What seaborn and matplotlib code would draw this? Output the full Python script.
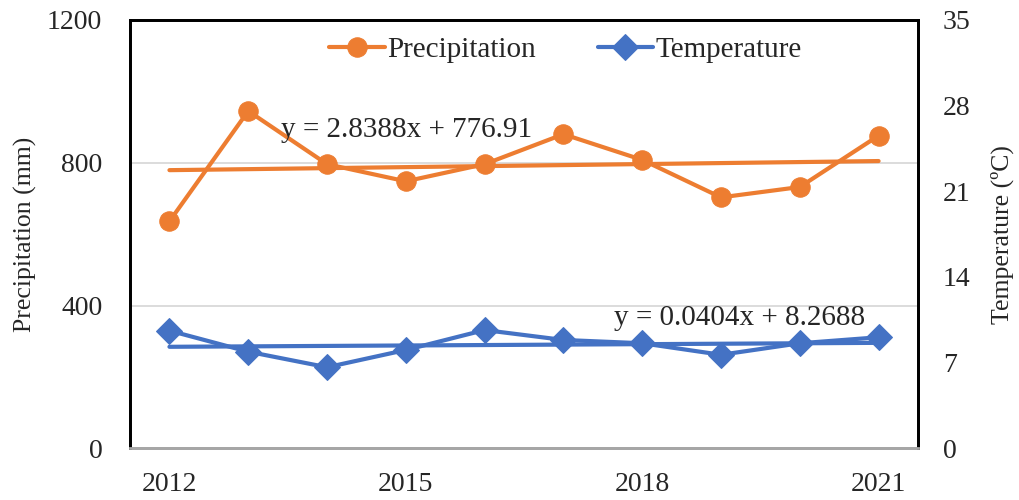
# precipitation and temperature 2012-2021 with linear trends
# two y axes: precipitation (left), temperature (right)

import numpy as np
import pandas as pd
import matplotlib
matplotlib.use('Agg')
import matplotlib.pyplot as plt
import seaborn as sns

# Data
years = [2012, 2013, 2014, 2015, 2016, 2017, 2018, 2019, 2020, 2021]
precipitation = [636, 945, 796, 748, 796, 880, 808, 703, 732, 876]
temperature = [9.61, 7.89, 6.62, 8.03, 9.66, 8.85, 8.58, 7.64, 8.58, 9.07]
precip_eq = 'y = 2.8388x + 776.91'
temp_eq = 'y = 0.0404x + 8.2688'
x_ticks = [2012, 2015, 2018, 2021]
precip_ticks = [0, 400, 800, 1200]
temp_ticks = [0, 7, 14, 21, 28, 35]

df = pd.DataFrame({'year': years, 'precip': precipitation,
                   'temp': temperature})

sns.set_style('white')
plt.rcParams['font.family'] = ['Liberation Serif', 'DejaVu Serif']

orange = '#ED7D31'
blue = '#4472C4'

fig = plt.figure(figsize=(10.2, 5), dpi=100)
ax = fig.add_axes([0.1275, 0.1035, 0.7725, 0.8565])
ax2 = ax.twinx()

# precipitation series + trend
sns.lineplot(data=df, x='year', y='precip', ax=ax, color=orange,
             marker='o', markersize=14, linewidth=3,
             markeredgecolor=orange, label='Precipitation', legend=False)
sns.regplot(data=df, x='year', y='precip', ax=ax, scatter=False, ci=None,
            color=orange, line_kws={'linewidth': 3})

# temperature series + trend
sns.lineplot(data=df, x='year', y='temp', ax=ax2, color=blue,
             marker='D', markersize=13, linewidth=3,
             markeredgecolor=blue, label='Temperature', legend=False)
sns.regplot(data=df, x='year', y='temp', ax=ax2, scatter=False, ci=None,
            color=blue, line_kws={'linewidth': 3})

ax.set_xlim(2011.5, 2021.5)
ax.set_ylim(0, 1200)
ax2.set_ylim(0, 35)
ax.set_xticks(x_ticks)
ax.set_yticks(precip_ticks)
ax2.set_yticks(temp_ticks)
ax.tick_params(axis='x', labelsize=20, length=0, pad=17)
ax.tick_params(axis='y', labelsize=20, length=0, pad=20)
ax2.tick_params(axis='y', labelsize=20, length=0, pad=18)
ax.set_xlabel('')
ax.set_ylabel('Precipitation (mm)', fontsize=18.5, labelpad=7)
ax2.set_ylabel('Temperature (ºC)', fontsize=18.5, labelpad=14)

ax.grid(axis='y', color='#D9D9D9', linewidth=1.3)
ax2.grid(False)
for a in (ax, ax2):
    for side in ['left', 'right', 'top']:
        a.spines[side].set_color('black')
        a.spines[side].set_linewidth(2)
    a.spines['bottom'].set_color('#A6A6A6')
    a.spines['bottom'].set_linewidth(2)

# trend equations
ax.text(2013.42, 891, precip_eq, fontsize=21, va='center', ha='left')
ax.text(2017.64, 365, temp_eq, fontsize=21, va='center', ha='left',
        zorder=5)

handles = ax.get_lines()[:1] + ax2.get_lines()[:1]
ax2.legend(handles, ['Precipitation', 'Temperature'], loc='center',
           bbox_to_anchor=(0.553, 0.93), ncol=2, frameon=False,
           fontsize=21, handlelength=1.9, handletextpad=0.1,
           columnspacing=2.1)

fig.savefig('out.png', dpi=100)
